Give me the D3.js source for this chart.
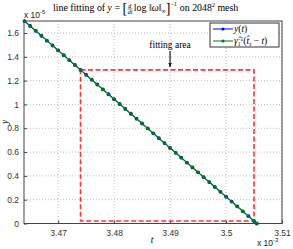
<!DOCTYPE html>
<html>
<head>
<meta charset="utf-8">
<script src="https://cdn.jsdelivr.net/npm/d3@7"></script>
<style>
  body { margin: 0; background: #fff; }
  text { font-family: "Liberation Sans", Arial, sans-serif; white-space: pre; }
  .serif { font-family: "Liberation Serif", "Times New Roman", serif; }
</style>
</head>
<body>
<script>
// t in units of 1e-3, y in units of 1e-5
let tVals = [3.464, 3.465, 3.466, 3.467, 3.468, 3.469, 3.470, 3.471, 3.472, 3.473,
  3.474, 3.475, 3.476, 3.477, 3.478, 3.479, 3.480, 3.481, 3.482, 3.483,
  3.484, 3.485, 3.486, 3.487, 3.488, 3.489, 3.490, 3.491, 3.492, 3.493,
  3.494, 3.495, 3.496, 3.497, 3.498, 3.499, 3.500, 3.501, 3.502, 3.503,
  3.504, 3.505, 3.5055];
let yVals = [1.7000, 1.6590, 1.6181, 1.5771, 1.5361, 1.4952, 1.4542, 1.4133, 1.3723, 1.3313,
  1.2904, 1.2494, 1.2084, 1.1675, 1.1265, 1.0855, 1.0446, 1.0036, 0.9627, 0.9217,
  0.8807, 0.8398, 0.7988, 0.7578, 0.7169, 0.6759, 0.6349, 0.5940, 0.5530, 0.5120,
  0.4711, 0.4301, 0.3892, 0.3482, 0.3072, 0.2663, 0.2253, 0.1843, 0.1434, 0.1024,
  0.0614, 0.0205, 0.0000];
let fitVals = [1.7001, 1.6591, 1.6181, 1.5771, 1.5362, 1.4952, 1.4542, 1.4133, 1.3723, 1.3313,
  1.2904, 1.2494, 1.2084, 1.1675, 1.1265, 1.0855, 1.0446, 1.0036, 0.9627, 0.9217,
  0.8807, 0.8398, 0.7988, 0.7578, 0.7169, 0.6759, 0.6349, 0.5940, 0.5530, 0.5120,
  0.4711, 0.4301, 0.3892, 0.3482, 0.3072, 0.2663, 0.2253, 0.1843, 0.1434, 0.1024,
  0.0614, 0.0205, 0.0000];
let xTicks = [3.47, 3.48, 3.49, 3.5, 3.51];
let yTicks = [0, 0.2, 0.4, 0.6, 0.8, 1, 1.2, 1.4, 1.6];
let fitArea = [[3.474, 1.2904], [3.505, 0.0205]];
let arrowT = 3.49;

let width = 293, height = 249;
let mLeft = 24, mRight = 282, mTop = 21, mBottom = 223.5;

let svg = d3.select("body").append("svg")
  .attr("width", width)
  .attr("height", height);

let x = d3.scaleLinear().domain([3.4639, 3.51]).range([mLeft, mRight]);
let y = d3.scaleLinear().domain([0, 1.701]).range([mBottom, mTop]);

// grid
let grid = svg.append("g").attr("stroke", "#bcbcbc").attr("stroke-dasharray", "1,2");
grid.selectAll(".gx").data(xTicks).join("line").attr("class", "gx")
  .attr("x1", d => x(d)).attr("x2", d => x(d))
  .attr("y1", mTop).attr("y2", mBottom);
grid.selectAll(".gy").data(yTicks).join("line").attr("class", "gy")
  .attr("x1", mLeft).attr("x2", mRight)
  .attr("y1", d => y(d)).attr("y2", d => y(d));

// axes
let xAxis = d3.axisBottom(x).tickValues(xTicks).tickSize(-3).tickPadding(6)
  .tickFormat(d => String(+d.toFixed(2)));
let yAxis = d3.axisLeft(y).tickValues(yTicks).tickSize(-3).tickPadding(5)
  .tickFormat(d => String(+d.toFixed(1)));

svg.append("g").attr("transform", `translate(0,${mBottom})`).call(xAxis)
  .call(g => g.select(".domain").remove());
svg.append("g").attr("transform", `translate(${mLeft},0)`).call(yAxis)
  .call(g => g.select(".domain").remove());
svg.selectAll(".tick text").attr("font-size", 8.5).attr("fill", "#333")
  .style("font-family", "Liberation Sans, Arial, sans-serif");
svg.selectAll(".tick line").attr("stroke", "#444");

// box
svg.append("rect")
  .attr("x", mLeft).attr("y", mTop)
  .attr("width", mRight - mLeft).attr("height", mBottom - mTop)
  .attr("fill", "none").attr("stroke", "#444").attr("stroke-width", 1);

// fitting area
svg.append("rect")
  .attr("x", x(fitArea[0][0])).attr("y", y(fitArea[0][1]))
  .attr("width", x(fitArea[1][0]) - x(fitArea[0][0]))
  .attr("height", y(fitArea[1][1]) - y(fitArea[0][1]))
  .attr("fill", "none").attr("stroke", "#ff3535").attr("stroke-width", 1.6)
  .attr("stroke-dasharray", "5,2.5");

// data series
let pts = tVals.map((t, i) => ({ t: t, y: yVals[i], f: fitVals[i] }));
let lineY = d3.line().x(d => x(d.t)).y(d => y(d.y));
let lineF = d3.line().x(d => x(d.t)).y(d => y(d.f));

svg.append("path").datum(pts).attr("d", lineY)
  .attr("fill", "none").attr("stroke", "#0000ff").attr("stroke-width", 1);
svg.selectAll(".py").data(pts).join("circle").attr("class", "py")
  .attr("cx", d => x(d.t)).attr("cy", d => y(d.y)).attr("r", 1.9).attr("fill", "#0000ff");
svg.append("path").datum(pts).attr("d", lineF)
  .attr("fill", "none").attr("stroke", "#008000").attr("stroke-width", 1.3);
svg.selectAll(".pf").data(pts).join("circle").attr("class", "pf")
  .attr("cx", d => x(d.t)).attr("cy", d => y(d.f)).attr("r", 1.5).attr("fill", "#007a10");

// arrow + label
let defs = svg.append("defs");
defs.append("marker").attr("id", "ah")
  .attr("viewBox", "0 0 10 10").attr("refX", 9).attr("refY", 5)
  .attr("markerWidth", 4).attr("markerHeight", 5).attr("orient", "auto")
  .append("path").attr("d", "M0,1 L10,5 L0,9 z").attr("fill", "#222");
svg.append("line")
  .attr("x1", x(arrowT)).attr("x2", x(arrowT))
  .attr("y1", 51).attr("y2", 67)
  .attr("stroke", "#222").attr("stroke-width", 1.2).attr("marker-end", "url(#ah)");
svg.append("text").attr("class", "serif")
  .attr("x", x(arrowT)).attr("y", 48).attr("text-anchor", "middle")
  .attr("font-size", 9.5).text("fitting area");

// legend
let lg = svg.append("g");
lg.append("rect").attr("x", 210).attr("y", 23).attr("width", 69).attr("height", 24)
  .attr("fill", "#fff").attr("stroke", "#333").attr("stroke-width", 1);
let legItems = [
  { color: "#0000ff", yy: 29 },
  { color: "#008000", yy: 41 }
];
legItems.forEach(it => {
  lg.append("line").attr("x1", 213).attr("x2", 233).attr("y1", it.yy).attr("y2", it.yy)
    .attr("stroke", it.color).attr("stroke-width", 1);
  lg.append("circle").attr("cx", 223).attr("cy", it.yy).attr("r", 1.6).attr("fill", it.color);
});
let l1 = lg.append("text").attr("class", "serif").attr("x", 234).attr("y", 32).attr("font-size", 9.5);
l1.append("tspan").attr("font-style", "italic").text("y");
l1.append("tspan").text("(");
l1.append("tspan").attr("font-style", "italic").text("t");
l1.append("tspan").text(")");
let l2 = lg.append("text").attr("class", "serif").attr("x", 234).attr("y", 44).attr("font-size", 9.5);
l2.append("tspan").attr("font-style", "italic").text("γ̂");
l2.append("tspan").attr("font-size", 5.5).attr("dy", 2).text("1");
l2.append("tspan").attr("font-size", 5.5).attr("dy", -5).attr("dx", -3).text("−1");
l2.append("tspan").attr("dy", 3).text("(");
l2.append("tspan").attr("font-style", "italic").text("t̂");
l2.append("tspan").attr("font-size", 5.5).attr("font-style", "italic").attr("dy", 1.5).text("s");
l2.append("tspan").attr("dy", -1.5).text(" − ");
l2.append("tspan").attr("font-style", "italic").text("t");
l2.append("tspan").text(")");

// axis labels
svg.append("text").attr("class", "serif").attr("x", 152).attr("y", 243)
  .attr("font-size", 9.5).attr("font-style", "italic").attr("text-anchor", "middle").text("t");
svg.append("text").attr("class", "serif")
  .attr("transform", "translate(8,122) rotate(-90)")
  .attr("font-size", 9.5).attr("font-style", "italic").attr("text-anchor", "middle").text("y");

// exponent labels
let e5 = svg.append("text").attr("x", 24).attr("y", 18).attr("font-size", 8.5).attr("fill", "#222");
e5.append("tspan").text("x 10");
e5.append("tspan").attr("font-size", 6).attr("dy", -4).text("-5");
let e3 = svg.append("text").attr("x", 257).attr("y", 246).attr("font-size", 8.5).attr("fill", "#222");
e3.append("tspan").text("x 10");
e3.append("tspan").attr("font-size", 6).attr("dy", -4).text("-3");

// title, laid out piece by piece
let cx = 53, base = 11;
function piece(str, opts) {
  opts = opts || {};
  let t = svg.append("text").attr("class", "serif")
    .attr("x", cx).attr("y", base + (opts.dy || 0))
    .attr("font-size", opts.size || 9.9)
    .attr("font-style", opts.italic ? "italic" : "normal")
    .text(str);
  let w = t.node().getComputedTextLength();
  if (!opts.noAdvance) cx += w;
  return w;
}
piece("line fitting of ");
piece("y", { italic: true });
piece(" = ");
piece("[", { size: 14, dy: 1.5 });
// fraction d/dt
let fx = cx + 0.5;
cx = fx;
let wDt = piece("dt", { size: 6, italic: true, dy: 3.3, noAdvance: true });
cx = fx + (wDt - 3.3) / 2;
piece("d", { size: 6, italic: true, dy: -3.3, noAdvance: true });
svg.append("line").attr("x1", fx).attr("x2", fx + wDt).attr("y1", base - 2).attr("y2", base - 2)
  .attr("stroke", "#000").attr("stroke-width", 0.5);
cx = fx + wDt + 1.5;
piece("log");
piece(" ‖");
piece("ω", { italic: true });
piece("‖");
piece("∞", { size: 6, dy: 1.5 });
piece("]", { size: 14, dy: 1.5 });
piece("−1", { size: 6, dy: -5.5 });
cx += 3;
piece("on 2048");
piece("2", { size: 6, dy: -4 });
piece(" mesh");
</script>
</body>
</html>
